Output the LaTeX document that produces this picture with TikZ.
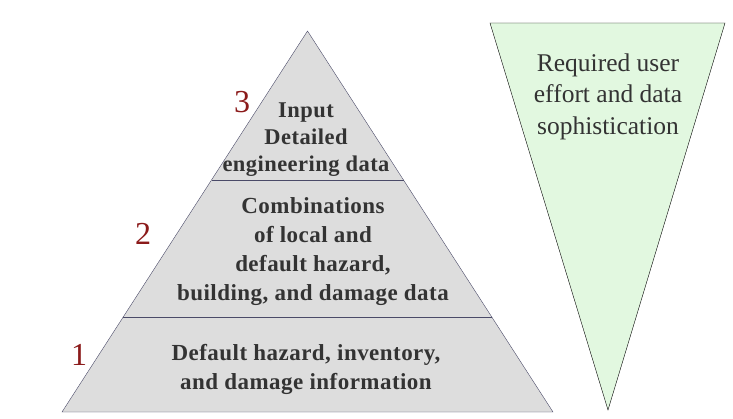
\documentclass[tikz,border=0pt]{standalone}
\usepackage{fontspec}
\setmainfont{Liberation Serif}
\newfontfamily\tierfont{Liberation Serif}[LetterSpace=2]
\definecolor{bandgray}{HTML}{DDDDDD}
\definecolor{edgeblue}{HTML}{4A4A68}
\definecolor{effortgreen}{HTML}{E2F8E0}
\definecolor{tiernum}{HTML}{8B1A1A}
\definecolor{textgray}{HTML}{333333}
\tikzset{
  tiertext/.style={align=center, text=textgray, font=\tierfont\bfseries\fontsize{23}{29}\selectfont},
  tiernumber/.style={text=tiernum, font=\fontsize{32}{32}\selectfont},
  efforttext/.style={align=center, text=textgray, font=\fontsize{25.5}{31.5}\selectfont}
}
\begin{document}
\begin{tikzpicture}[x=1pt,y=-1pt]
            \useasboundingbox (0,0) rectangle (733,419);
            % pyramid and its tiers
            \draw[edgeblue, fill=bandgray] (307.5,31) -- (553,412) -- (62,412) -- cycle;
            \draw[edgeblue] (211.5,180) -- (403.5,180);
            \draw[edgeblue] (123.2,317) -- (491.8,317);
            % inverted triangle
            \draw[black, fill=effortgreen] (490,23) -- (725,23) -- (608,410) -- cycle;
            \node[tiertext, font=\tierfont\bfseries\fontsize{22.5}{27}\selectfont] (tier3) at (306,140) {Input\\Detailed\\engineering data};
            \node[tiertext] (tier2) at (313,252) {Combinations\\of local and\\default hazard,\\building, and damage data};
            \node[tiertext] (tier1) at (306,369.5) {Default hazard, inventory,\\and damage information};
            \node[tiernumber] (num3) at (242,102) {3};
            \node[tiernumber] (num2) at (143,234) {2};
            \node[tiernumber] (num1) at (79,355) {1};
            \node[efforttext] (effort) at (608,96.5) {Required user\\effort and data\\sophistication};
        \end{tikzpicture}
\end{document}
